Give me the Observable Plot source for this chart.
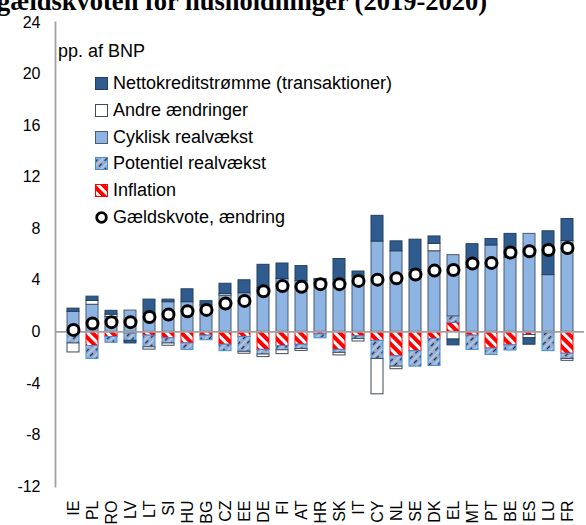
<!DOCTYPE html>
<html><head><meta charset="utf-8">
<script src="https://cdn.jsdelivr.net/npm/d3@7"></script>
<script src="https://cdn.jsdelivr.net/npm/@observablehq/plot@0.6"></script>
<style>
body{margin:0;background:#fff;}
#wrap{position:relative;width:586px;height:525px;overflow:hidden;font-family:"Liberation Sans",Arial,sans-serif;color:#000;}
#title{position:absolute;left:-3px;top:-12px;font:bold 26.5px/26px "Liberation Serif","Times New Roman",serif;white-space:nowrap;}
#unit{position:absolute;left:58px;top:42px;font-size:18px;line-height:18px;}
#legend{position:absolute;left:95px;top:70.5px;font-size:18px;}
.row{display:flex;align-items:center;height:26.65px;white-space:nowrap;}
.row svg{margin-right:5px;flex:none;}
</style></head><body>
<svg width="0" height="0" style="position:absolute">
 <defs>
  <pattern id="pInfl" patternUnits="userSpaceOnUse" width="7" height="7" patternTransform="rotate(-45)">
   <rect width="7" height="7" fill="#ff0000"/>
   <rect x="0" width="3" height="7" fill="#ffffff"/>
  </pattern>
  <pattern id="pPot" patternUnits="userSpaceOnUse" width="6" height="8" patternTransform="rotate(45)">
   <rect width="6" height="8" fill="#93acd2"/>
   <line x1="0.8" y1="0" x2="0.8" y2="8" stroke="#c3d3ea" stroke-width="1.2"/>
   <line x1="3.5" y1="0" x2="3.5" y2="8" stroke="#1f2a40" stroke-width="1.3" stroke-dasharray="4 4"/>
  </pattern>
 </defs>
</svg>
<div id="wrap">
 <div id="title">gældskvoten for husholdninger (2019-2020)</div>
</div>
<script>
// ---- data ----
const countries = ["IE","PL","RO","LV","LT","SI","HU","BG","CZ","EE","DE","FI","AT","HR","SK","IT","CY","NL","SE","DK","EL","MT","PT","BE","ES","LU","FR"];
const nettokredit = [0.25,0.33,0.3,-0.2,1.1,0.2,1.0,0.33,0.8,1.0,1.8,1.2,1.15,0.1,1.65,0.38,2.0,0.77,2.35,0.57,-0.45,1.85,0.5,1.85,-0.5,3.4,1.7];
const andre = [-0.7,0.3,0.18,0,-0.18,-0.18,0,0,0.13,-0.15,-0.2,-0.3,-0.15,0,-0.2,-0.2,-2.75,-0.2,0,0.58,-0.6,0,0,0,-0.25,0,-0.15];
const cyklisk = [1.55,2.1,1.15,1.65,1.4,2.3,2.3,2.05,2.8,3.0,3.4,4.1,3.95,4.0,4.0,4.3,7.0,6.25,4.8,6.25,4.75,4.95,6.7,5.75,7.6,4.4,7.05];
const potentiel = [-0.9,-1.0,-0.45,-0.55,-0.9,-0.4,-0.5,-0.35,-0.5,-1.15,-0.36,-0.33,-0.33,-0.3,-0.23,-0.2,-1.4,-0.8,-1.2,-2.1,0.5,-1.1,-0.5,-0.4,0,-1.4,-0.4];
const inflation = [0,-1.1,-0.4,-0.15,-0.3,-0.5,-0.9,-0.3,-1.0,-0.4,-1.4,-1.1,-1.0,-0.2,-1.4,-0.35,-0.7,-1.9,-1.5,-0.55,0.7,-0.3,-1.3,-1.05,-0.25,-0.1,-1.7];
const gaeldskvote = [0.15,0.65,0.75,0.75,1.15,1.35,1.6,1.7,2.2,2.4,3.15,3.55,3.5,3.7,3.7,3.95,4.05,4.15,4.45,4.75,4.8,5.3,5.35,6.15,6.25,6.35,6.5];
const yTicks = [-12,-8,-4,0,4,8,12,16,20,24];
const unitLabel = "pp. af BNP";
const dotLabel = "Gældskvote, ændring";

// series in stacking order (from zero outward)
const series = [
  {name:"Inflation", values:inflation, fill:"url(#pInfl)", stroke:"#ff0000"},
  {name:"Potentiel realvækst", values:potentiel, fill:"url(#pPot)", stroke:"#3f8ddb"},
  {name:"Cyklisk realvækst", values:cyklisk, fill:"#8db4e2", stroke:"#4d5b6e"},
  {name:"Andre ændringer", values:andre, fill:"#ffffff", stroke:"#3f4a5a"},
  {name:"Nettokreditstrømme (transaktioner)", values:nettokredit, fill:"#2f5b8f", stroke:"#22405f"}
];

// diverging stack
const rows = [];
countries.forEach((c,i) => {
  let pos = 0, neg = 0;
  series.forEach(s => {
    const v = s.values[i];
    if (!v) return;
    if (v > 0) { rows.push({country:c, series:s.name, y1:pos, y2:pos+v}); pos += v; }
    else { rows.push({country:c, series:s.name, y1:neg, y2:neg+v}); neg += v; }
  });
});
const dots = countries.map((c,i) => ({country:c, value:gaeldskvote[i]}));

const chart = Plot.plot({
  width: 586, height: 525,
  marginLeft: 55, marginRight: 2, marginTop: 22, marginBottom: 39,
  style: {fontFamily: "'Liberation Sans', Arial, sans-serif", fontSize: "16px", color: "#000", background: "transparent"},
  x: {domain: countries, paddingInner: 0.39, paddingOuter: 0.2, label: null},
  y: {domain: [-12, 24], label: null},
  marks: [
    ...series.map(s => Plot.barY(rows.filter(r => r.series === s.name), {
      x: "country", y1: "y1", y2: "y2", fill: s.fill, stroke: s.stroke, strokeWidth: 1
    })),
    Plot.ruleY([0], {stroke: "#a0a0a0", strokeWidth: 1.8}),
    Plot.frame({anchor: "left", stroke: "#a0a0a0", strokeWidth: 1.8}),
    Plot.axisY({ticks: yTicks, tickSize: 0, tickPadding: 15, tickFormat: d => String(d), fontSize: 16}),
    Plot.axisX({tickSize: 0, tickPadding: 14, tickRotate: -90, fontSize: 16}),
    Plot.dot(dots, {x: "country", y: "value", r: 5.5, stroke: "#000", strokeWidth: 3, fill: "#fff"})
  ]
});
const wrap = document.getElementById("wrap");
wrap.insertBefore(chart, wrap.firstChild);

const unit = document.createElement("div");
unit.id = "unit"; unit.textContent = unitLabel;
wrap.appendChild(unit);

// legend (top-down order as in the original)
const legend = document.createElement("div");
legend.id = "legend";
const ns = "http://www.w3.org/2000/svg";
[...series].reverse().forEach(s => {
  const row = document.createElement("div"); row.className = "row";
  const sw = document.createElementNS(ns, "svg");
  sw.setAttribute("width", 13); sw.setAttribute("height", 13);
  const r = document.createElementNS(ns, "rect");
  r.setAttribute("x", 0.5); r.setAttribute("y", 0.5); r.setAttribute("width", 12); r.setAttribute("height", 12);
  r.setAttribute("fill", s.fill); r.setAttribute("stroke", s.stroke);
  sw.appendChild(r);
  const t = document.createElement("span"); t.textContent = s.name;
  row.appendChild(sw); row.appendChild(t); legend.appendChild(row);
});
{
  const row = document.createElement("div"); row.className = "row";
  const sw = document.createElementNS(ns, "svg");
  sw.setAttribute("width", 13); sw.setAttribute("height", 13);
  const c = document.createElementNS(ns, "circle");
  c.setAttribute("cx", 6.5); c.setAttribute("cy", 6.5); c.setAttribute("r", 4.8);
  c.setAttribute("fill", "#fff"); c.setAttribute("stroke", "#000"); c.setAttribute("stroke-width", 2.8);
  sw.appendChild(c);
  const t = document.createElement("span"); t.textContent = dotLabel;
  row.appendChild(sw); row.appendChild(t); legend.appendChild(row);
}
wrap.appendChild(legend);
</script>
</body></html>
